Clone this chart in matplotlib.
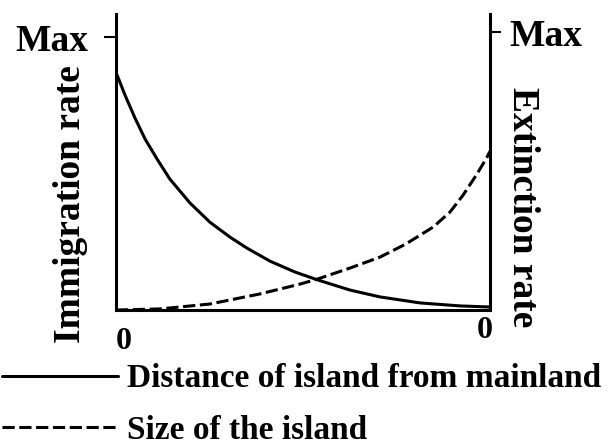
import matplotlib
matplotlib.use("Agg")
import matplotlib.pyplot as plt

plt.rcParams['font.family'] = ['Liberation Serif', 'DejaVu Serif']
plt.rcParams['font.weight'] = 'bold'

# x: position along axis (0..1), y: rate relative to Max
dist_x = [0.003, 0.024, 0.051, 0.078, 0.110, 0.144, 0.198, 0.251, 0.305,
          0.350, 0.412, 0.479, 0.540, 0.626, 0.706, 0.813, 0.920, 1.0]
dist_y = [0.861, 0.788, 0.703, 0.626, 0.553, 0.480, 0.392, 0.322, 0.267,
          0.227, 0.179, 0.139, 0.110, 0.073, 0.048, 0.026, 0.015, 0.011]

size_x = [0.0, 0.118, 0.251, 0.385, 0.492, 0.540, 0.626, 0.706, 0.775,
          0.848, 0.893, 0.928, 0.965, 0.992, 1.0]
size_y = [0.0, 0.004, 0.022, 0.059, 0.095, 0.114, 0.154, 0.194, 0.242,
          0.304, 0.359, 0.421, 0.498, 0.560, 0.582]

lbl_dist = 'Distance of island from mainland'
lbl_size = 'Size of the island'

fig = plt.figure(figsize=(6.08, 4.46), dpi=100)
ax = fig.add_axes([0.1908, 0.3049, 0.6151, 0.6637])

ax.plot(dist_x, dist_y, color='black', lw=2.2, label=lbl_dist,
        solid_capstyle='round', solid_joinstyle='round')
ax.plot(size_x, size_y, color='black', lw=2.2, dashes=(4, 1.5), label=lbl_size,
        dash_joinstyle='round')

ax.set_xlim(0, 1)
ax.set_ylim(0, 1.085)
ax.spines['top'].set_visible(False)
for s in ['left', 'right', 'bottom']:
    ax.spines[s].set_linewidth(2.2)

ax.set_xticks([])
ax.set_yticks([1])
ax.set_yticklabels(['Max'], fontsize=27)
ax.tick_params(axis='y', length=8.6, width=1.5, pad=11)

# right side "Max"
ax2 = ax.twinx()
ax2.set_ylim(0, 1.085)
ax2.set_yticks([1.018])
ax2.set_yticklabels(['Max'], fontsize=27)
ax2.tick_params(axis='y', length=8, width=1.5, pad=6)
for s in ax2.spines.values():
    s.set_visible(False)

ax.text(-0.123, 0.358, 'Immigration rate', rotation=90, fontsize=27,
        ha='center', va='center', transform=ax.transAxes)
ax.text(1.086, 0.348, 'Extinction rate', rotation=270, fontsize=27,
        ha='center', va='center', transform=ax.transAxes)

ax.annotate('0', xy=(0, 0), xytext=(8, -17), textcoords='offset pixels',
            fontsize=23, ha='center', va='top', xycoords='axes fraction')
ax.annotate('0', xy=(1, 0), xytext=(-5, -6), textcoords='offset pixels',
            fontsize=23, ha='center', va='top', xycoords='axes fraction')

fig.legend(loc='lower left', bbox_to_anchor=(0.003, 0.0), frameon=False,
           fontsize=24, handlelength=3.5, handletextpad=0.25,
           labelspacing=0.62, borderpad=0.0, borderaxespad=0)

fig.savefig('out.png', dpi=100)
